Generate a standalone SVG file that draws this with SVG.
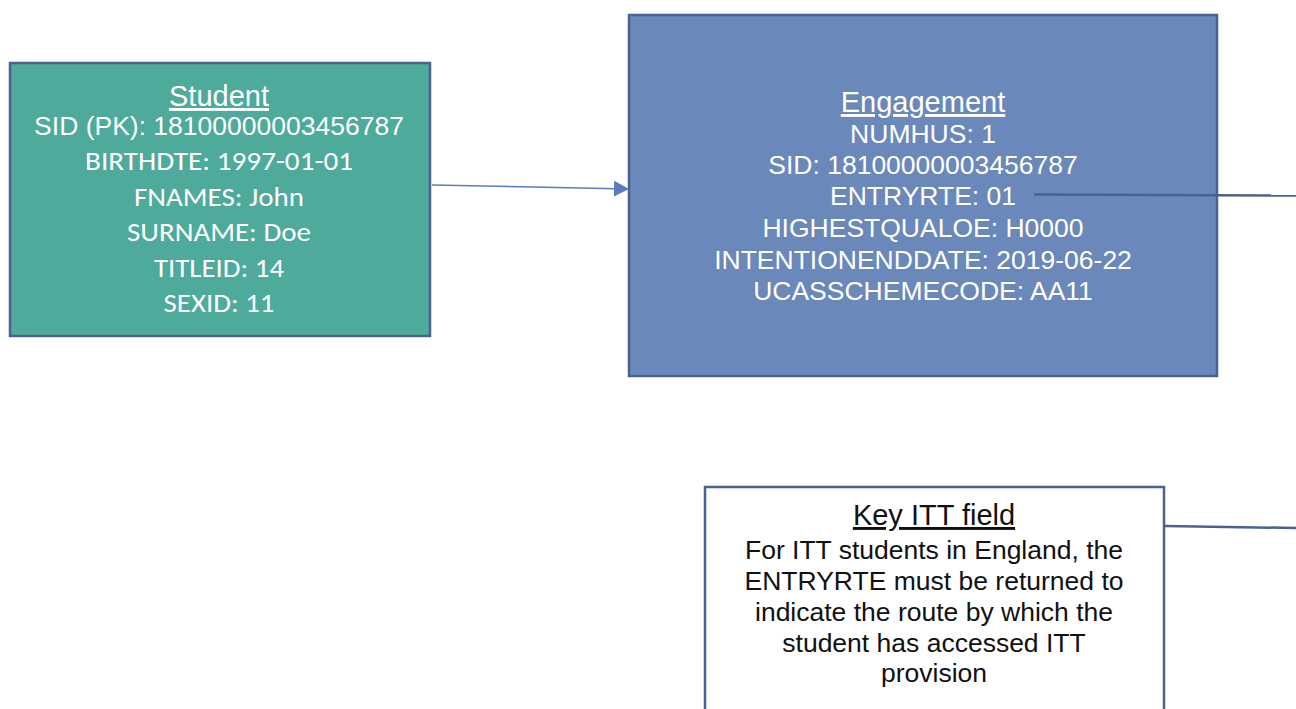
<svg xmlns="http://www.w3.org/2000/svg" width="1296" height="709" viewBox="0 0 1296 709">
  <defs>
    <style>
      .box { stroke: #4a6290; stroke-width: 2.5; }
      .t { text-anchor: middle; fill: #ffffff; }
      .arial { font-family: "Liberation Sans", Arial, sans-serif; }
      .cal { font-family: Carlito, "Open Sans", Lato, sans-serif; }
      .hd { font-size: 29px; text-decoration: underline; }
      .bd { font-size: 26.5px; }
      .dark { fill: #111111; }
      .conn { fill: none; stroke: #4a6290; stroke-width: 2.5; }
    </style>
    <marker id="arrow" markerWidth="16" markerHeight="16" refX="15" refY="8" orient="auto" markerUnits="userSpaceOnUse">
      <path d="M0,0 L15,8 L0,16 Z" fill="#5b7bbf"/>
    </marker>
  </defs>
  <rect x="0" y="0" width="1296" height="709" fill="#ffffff"/>

  <g id="student">
    <rect class="box" x="10" y="63" width="420" height="273" fill="#4eaa9a"/>
    <text class="t arial hd" x="219" y="106">Student</text>
    <text class="t arial bd" x="219" y="135">SID (PK): 18100000003456787</text>
    <text class="t cal" font-size="26" x="219" y="170" textLength="268" lengthAdjust="spacingAndGlyphs">BIRTHDTE: 1997-01-01</text>
    <text class="t cal" font-size="26" x="219" y="206" textLength="170" lengthAdjust="spacingAndGlyphs">FNAMES: John</text>
    <text class="t cal" font-size="26" x="219" y="241" textLength="184" lengthAdjust="spacingAndGlyphs">SURNAME: Doe</text>
    <text class="t cal" font-size="26" x="219" y="277" textLength="130" lengthAdjust="spacingAndGlyphs">TITLEID: 14</text>
    <text class="t cal" font-size="26" x="219" y="312" textLength="111" lengthAdjust="spacingAndGlyphs">SEXID: 11</text>
  </g>

  <g id="engagement">
    <rect class="box" x="629" y="15" width="588" height="361" fill="#6a88b9"/>
    <text class="t arial hd" x="923" y="112">Engagement</text>
    <text class="t arial bd" x="923" y="143">NUMHUS: 1</text>
    <text class="t arial bd" x="923" y="174">SID: 18100000003456787</text>
    <text class="t arial bd" x="923" y="205">ENTRYRTE: 01</text>
    <text class="t arial bd" x="923" y="237">HIGHESTQUALOE: H0000</text>
    <text class="t arial bd" x="923" y="269">INTENTIONENDDATE: 2019-06-22</text>
    <text class="t arial bd" x="923" y="300">UCASSCHEMECODE: AA11</text>
  </g>

  <g id="key-itt-field">
    <rect class="box" x="705" y="487" width="459" height="240" fill="#ffffff"/>
    <text class="t arial hd dark" x="934" y="525">Key ITT field</text>
    <text class="t arial bd dark" x="934" y="559">For ITT students in England, the</text>
    <text class="t arial bd dark" x="934" y="590">ENTRYRTE must be returned to</text>
    <text class="t arial bd dark" x="934" y="621">indicate the route by which the</text>
    <text class="t arial bd dark" x="934" y="652">student has accessed ITT</text>
    <text class="t arial bd dark" x="934" y="682">provision</text>
  </g>

  <g id="connectors">
    <line x1="432" y1="185" x2="629" y2="189" stroke="#5b7bbf" stroke-width="1.5" marker-end="url(#arrow)"/>
    <line class="conn" x1="1034" y1="194.5" x2="1296" y2="195.5"/>
    <line class="conn" x1="1165" y1="526" x2="1296" y2="528"/>
  </g>
</svg>
